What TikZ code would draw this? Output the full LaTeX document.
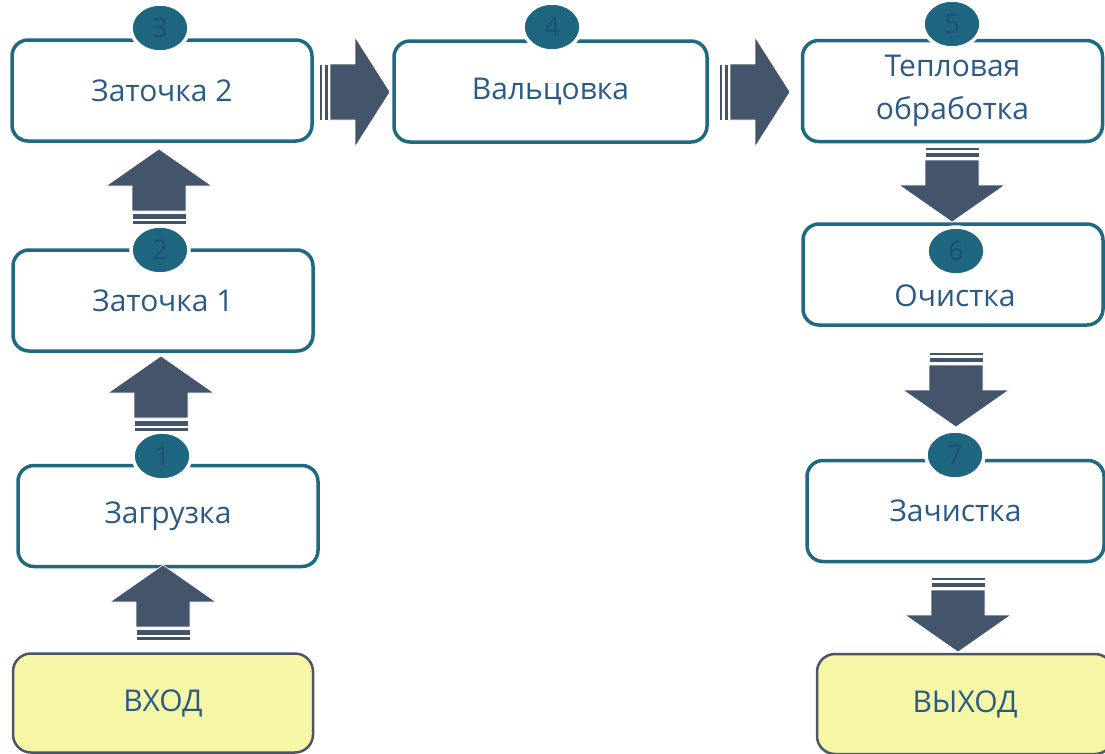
\documentclass[tikz,border=0pt]{standalone}
\usepackage{fontspec}
\setmainfont{Open Sans}
\usetikzlibrary{shapes.geometric}
\definecolor{boxline}{HTML}{1F6A82}
\definecolor{circfill}{HTML}{1F6680}
\definecolor{txt}{HTML}{2B5A86}
\definecolor{numtxt}{HTML}{1F4E79}
\definecolor{arr}{HTML}{44546A}
\definecolor{ioline}{HTML}{4A5568}
\definecolor{iofill}{HTML}{F5F7A6}
\tikzset{
  stage/.style={draw=boxline, line width=3.5pt, rounded corners=16pt, fill=white,
    minimum width=300pt, minimum height=101pt, inner sep=0pt, align=center,
    text=txt, font=\fontsize{30}{43}\selectfont},
  label text/.style={text=txt, font=\fontsize{30}{43}\selectfont, inner sep=0pt},
  iobox/.style={draw=ioline, line width=2.5pt, rounded corners=18pt, fill=iofill,
    minimum width=300pt, minimum height=99pt, inner sep=0pt,
    text=txt, font=\fontsize{30}{43}\selectfont},
  num/.style={ellipse, fill=circfill, draw=white, line width=3.5pt,
    minimum width=58pt, minimum height=48pt, inner sep=0pt,
    text=numtxt, font=\fontsize{27}{30}\selectfont},
  arrfill/.style={fill=arr, draw=white, line width=0.6pt},
  uparr/.pic={
    \path[arrfill] (0,0) -- (53,37) -- (27,37) -- (27,62) -- (-27,62) -- (-27,37) -- (-53,37) -- cycle;
    \path[arrfill] (-27,64.5) rectangle (27,70);
    \path[arrfill] (-27,71.5) rectangle (27,75);
  },
  downarr/.pic={
    \path[arrfill] (0,0) -- (53,-37) -- (27,-37) -- (27,-62) -- (-27,-62) -- (-27,-37) -- (-53,-37) -- cycle;
    \path[arrfill] (-27,-64.5) rectangle (27,-70);
    \path[arrfill] (-27,-71.5) rectangle (27,-75);
  },
  rightarr/.pic={
    \path[arrfill] (0,0) -- (-35,-55) -- (-35,-28) -- (-60,-28) -- (-60,28) -- (-35,28) -- (-35,55) -- cycle;
    \path[arrfill] (-61.5,-28) rectangle (-66,28);
    \path[arrfill] (-67.5,-28) rectangle (-71,28);
  }
}
\begin{document}
\begin{tikzpicture}[x=1pt,y=-1pt]
\useasboundingbox (0,0) rectangle (1105,753);
% stage boxes
\node[stage] (b3) at (162,90.5) {Заточка 2};
\node[stage, minimum width=313pt] (b4) at (550.5,91.5) {Вальцовка};
\node[stage] (b5) at (952.5,91) {Тепловая\\обработка};
\node[stage] (b6) at (953,274.5) {};
\node[label text] (b6t) at (955,296) {Очистка};
\node[stage] (b2) at (163,300.5) {Заточка 1};
\node[stage] (b1) at (168,516) {Загрузка};
\node[stage, minimum width=297pt] (b7) at (955.5,511) {Зачистка};
% input/output
\node[iobox] (in) at (163,703) {ВХОД};
\node[iobox, minimum width=296pt, minimum height=100pt] (out) at (965,704) {ВЫХОД};
% number badges
\node[num] (n3) at (160,28) {3};
\node[num] (n4) at (552,27) {4};
\node[num] (n5) at (952,24) {5};
\node[num] (n6) at (956,251) {6};
\node[num] (n2) at (160,250) {2};
\node[num] (n1) at (162,456) {1};
\node[num] (n7) at (955,455) {7};
% block arrows
\pic at (163,565) {uparr};
\pic at (161,356) {uparr};
\pic at (159,149) {uparr};
\pic at (390,92) {rightarr};
\pic at (790,92) {rightarr};
\pic at (952,222) {downarr};
\pic at (956,427) {downarr};
\pic at (958,652) {downarr};
\end{tikzpicture}
\end{document}
